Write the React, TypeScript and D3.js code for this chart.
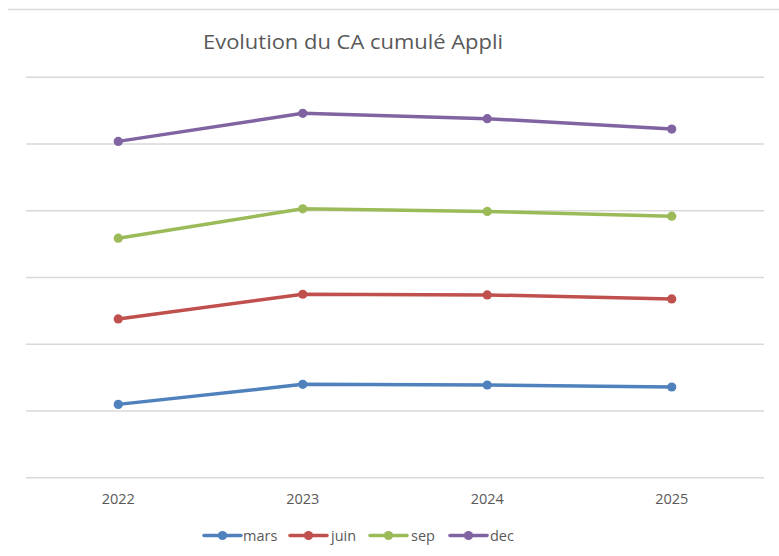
import React from "react";
import * as d3 from "d3";

const categories = ["2022", "2023", "2024", "2025"];
const seriesNames = ["mars", "juin", "sep", "dec"];
const marsValues = [11.0, 14.0, 13.9, 13.6];
const juinValues = [23.8, 27.5, 27.4, 26.8];
const sepValues = [35.9, 40.3, 39.9, 39.2];
const decValues = [50.4, 54.6, 53.8, 52.25];
const yTicks = [0, 10, 20, 30, 40, 50, 60];
const colors = ["#4F81BD", "#C0504D", "#9BBB59", "#8064A2"];

const W = 779;
const H = 556;
const FONT = "'Open Sans', 'Noto Sans', sans-serif";

export default function App() {
  const left = 26;
  const right = 764;
  const top = 77.3;
  const bottom = 477.8;
  const x = d3.scaleBand().domain(categories).range([left, right]).padding(0);
  const y = d3.scaleLinear().domain([0, 60]).range([bottom, top]);
  const cx = (c: string) => (x(c) as number) + x.bandwidth() / 2;
  const allSeries = [marsValues, juinValues, sepValues, decValues];
  const line = d3
    .line<number>()
    .x((_, i) => cx(categories[i]))
    .y((v) => y(v));

  const legendItems = [
    { lineX: 204, textX: 243 },
    { lineX: 290, textX: 331 },
    { lineX: 370, textX: 411 },
    { lineX: 450, textX: 490 },
  ];

  return (
    <svg
      width={W}
      height={H}
      style={{ position: "absolute", left: 0, top: 0, background: "#fff" }}
    >
      <rect x={0} y={0} width={W} height={H} fill="#fff" />
      <line x1={8} x2={W} y1={9.5} y2={9.5} stroke="#d9d9d9" strokeWidth={1.5} />
      <text
        x={353}
        y={49}
        textAnchor="middle"
        fontFamily={FONT}
        fontSize={20}
        fill="#595959"
        textLength={300}
        lengthAdjust="spacingAndGlyphs"
      >
        Evolution du CA cumulé Appli
      </text>
      {yTicks.map((t) => (
        <line
          key={t}
          x1={left}
          x2={right}
          y1={y(t)}
          y2={y(t)}
          stroke="#d9d9d9"
          strokeWidth={1.5}
        />
      ))}
      {categories.map((c) => (
        <text
          key={c}
          x={cx(c)}
          y={504}
          textAnchor="middle"
          fontFamily={FONT}
          fontSize={14.5}
          fill="#595959"
        >
          {c}
        </text>
      ))}
      {allSeries.map((vals, si) => (
        <g key={si}>
          <path
            d={line(vals) as string}
            fill="none"
            stroke={colors[si]}
            strokeWidth={3.5}
            strokeLinejoin="round"
            strokeLinecap="round"
          />
          {vals.map((v, i) => (
            <circle key={i} cx={cx(categories[i])} cy={y(v)} r={4.6} fill={colors[si]} />
          ))}
        </g>
      ))}
      {seriesNames.map((n, i) => (
        <g key={n}>
          <line
            x1={legendItems[i].lineX}
            x2={legendItems[i].lineX + 37}
            y1={535.5}
            y2={535.5}
            stroke={colors[i]}
            strokeWidth={3.5}
            strokeLinecap="round"
          />
          <circle cx={legendItems[i].lineX + 18.5} cy={535.5} r={4.6} fill={colors[i]} />
          <text
            x={legendItems[i].textX}
            y={541}
            fontFamily={FONT}
            fontSize={14.5}
            fill="#595959"
          >
            {n}
          </text>
        </g>
      ))}
    </svg>
  );
}
